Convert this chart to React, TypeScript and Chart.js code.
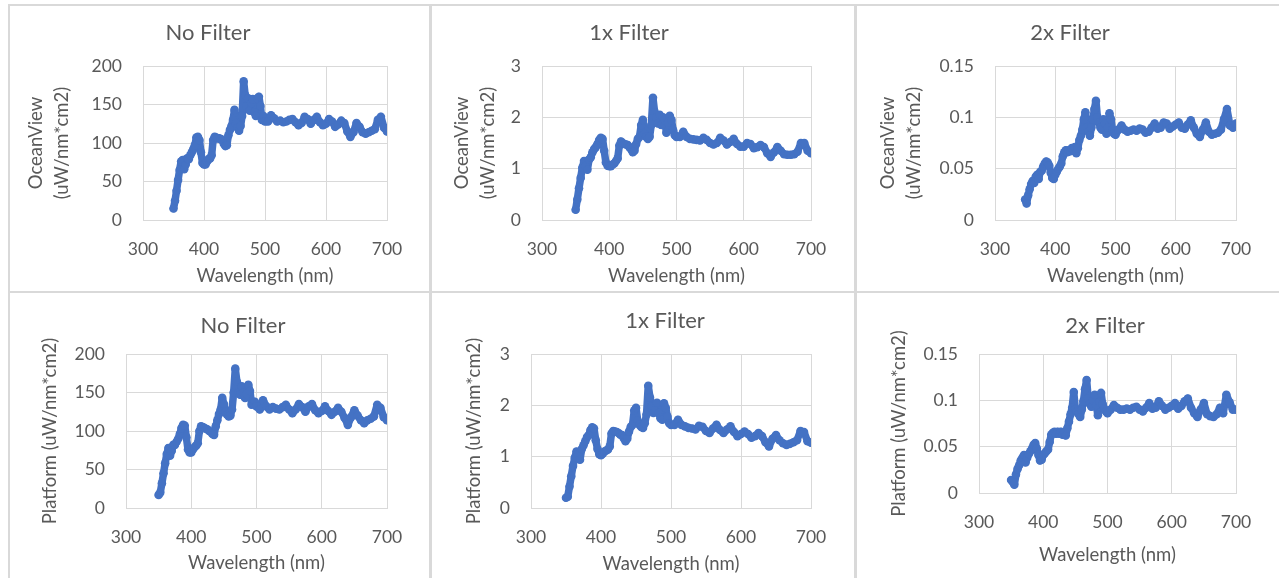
import React, { useEffect, useRef } from 'react';
import { Chart, registerables } from 'chart.js';

Chart.register(...registerables);

// Wavelength samples (nm)
const wavelengths = [
  350, 352.5, 355, 357.5, 360, 362.5, 365, 367.5, 370, 372.5,
  375, 377.5, 380, 382.5, 385, 387.5, 390, 392.5, 395, 397.5,
  400, 402.5, 405, 407.5, 410, 412.5, 415, 417.5, 420, 422.5,
  425, 427.5, 430, 432.5, 435, 437.5, 440, 442.5, 445, 447.5,
  450, 452.5, 455, 457.5, 460, 462.5, 465, 467.5, 470, 472.5,
  475, 477.5, 480, 482.5, 485, 487.5, 490, 492.5, 495, 497.5,
  500, 505, 510, 515, 520, 525, 530, 535, 540, 545,
  550, 555, 560, 565, 570, 575, 580, 585, 590, 595,
  600, 605, 610, 615, 620, 625, 630, 635, 640, 645,
  650, 655, 660, 665, 670, 675, 680, 685, 690, 695,
  700,
];

// OceanView, no filter
const oceanViewNoFilter = [
  15, 25, 38, 52, 65, 76, 78, 66, 72, 80,
  79, 84, 88, 92, 97, 107, 108, 104, 88, 74,
  72, 72, 76, 79, 80, 84, 104, 108, 107, 106,
  106, 105, 104, 99, 96, 97, 110, 117, 122, 130,
  143, 125, 120, 116, 122, 135, 180, 162, 148, 158,
  142, 152, 157, 140, 135, 158, 160, 148, 130, 135,
  128, 128, 136, 132, 128, 129, 127, 128, 130, 131,
  127, 123, 126, 134, 131, 125, 130, 134, 127, 123,
  125, 131, 128, 121, 124, 129, 126, 115, 108, 114,
  126, 121, 114, 112, 114, 116, 118, 130, 134, 120,
  115,
];

// OceanView, 1x filter
const oceanView1x = [
  0.20, 0.40, 0.62, 0.82, 1.02, 1.15, 1.05, 0.98, 1.18, 1.22,
  1.32, 1.38, 1.42, 1.48, 1.56, 1.60, 1.58, 1.35, 1.12, 1.06,
  1.05, 1.05, 1.08, 1.10, 1.15, 1.20, 1.45, 1.53, 1.50, 1.48,
  1.47, 1.46, 1.42, 1.38, 1.32, 1.35, 1.48, 1.58, 1.62, 1.85,
  1.95, 1.68, 1.62, 1.58, 1.62, 1.85, 2.38, 2.10, 2.00, 1.88,
  2.05, 1.85, 2.00, 1.95, 1.70, 1.90, 2.03, 1.95, 1.75, 1.65,
  1.62, 1.62, 1.72, 1.62, 1.58, 1.57, 1.56, 1.55, 1.60, 1.56,
  1.50, 1.47, 1.50, 1.60, 1.55, 1.47, 1.52, 1.58, 1.48, 1.43,
  1.43, 1.50, 1.48, 1.40, 1.42, 1.46, 1.42, 1.30, 1.23, 1.32,
  1.42, 1.35, 1.28, 1.27, 1.27, 1.28, 1.33, 1.50, 1.50, 1.35,
  1.30,
];

// OceanView, 2x filter
const oceanView2x = [
  0.020, 0.016, 0.024, 0.030, 0.035, 0.038, 0.036, 0.042, 0.044, 0.040,
  0.047, 0.048, 0.052, 0.055, 0.057, 0.056, 0.053, 0.046, 0.041, 0.040,
  0.044, 0.047, 0.050, 0.052, 0.055, 0.062, 0.066, 0.068, 0.066, 0.068,
  0.067, 0.070, 0.069, 0.071, 0.065, 0.070, 0.078, 0.082, 0.088, 0.098,
  0.105, 0.090, 0.086, 0.082, 0.090, 0.098, 0.108, 0.116, 0.100, 0.095,
  0.090, 0.088, 0.098, 0.094, 0.084, 0.090, 0.104, 0.098, 0.088, 0.084,
  0.083, 0.088, 0.092, 0.088, 0.086, 0.087, 0.088, 0.087, 0.089, 0.088,
  0.085, 0.086, 0.090, 0.094, 0.089, 0.090, 0.095, 0.094, 0.089, 0.091,
  0.093, 0.095, 0.090, 0.089, 0.093, 0.097, 0.090, 0.084, 0.081, 0.088,
  0.095, 0.086, 0.083, 0.084, 0.085, 0.088, 0.098, 0.108, 0.092, 0.090,
  0.094,
];

// Platform, no filter
const platformNoFilter = [
  17, 20, 32, 45, 58, 70, 78, 68, 74, 82,
  82, 86, 90, 96, 104, 108, 107, 92, 76, 72,
  72, 76, 79, 81, 84, 100, 106, 105, 104, 103,
  102, 100, 99, 96, 95, 106, 114, 122, 128, 143,
  135, 125, 121, 119, 120, 128, 150, 181, 164, 150,
  147, 158, 150, 143, 148, 160, 152, 134, 136, 138,
  132, 128, 140, 132, 128, 131, 129, 128, 131, 134,
  128, 123, 128, 135, 131, 125, 132, 135, 127, 123,
  126, 132, 126, 121, 125, 130, 125, 117, 108, 118,
  127, 120, 114, 110, 114, 116, 119, 134, 130, 118,
  114,
];

// Platform, 1x filter
const platform1x = [
  0.20, 0.22, 0.42, 0.62, 0.82, 0.98, 1.10, 1.05, 0.94, 1.15,
  1.22, 1.30, 1.38, 1.42, 1.52, 1.57, 1.55, 1.32, 1.15, 1.05,
  1.03, 1.06, 1.10, 1.12, 1.14, 1.20, 1.45, 1.50, 1.49, 1.48,
  1.46, 1.43, 1.42, 1.36, 1.30, 1.35, 1.49, 1.58, 1.62, 1.90,
  1.95, 1.70, 1.62, 1.58, 1.56, 1.65, 1.82, 2.38, 2.15, 1.98,
  1.85, 1.90, 2.05, 1.85, 1.75, 1.72, 2.04, 1.95, 1.78, 1.65,
  1.62, 1.62, 1.72, 1.62, 1.59, 1.56, 1.55, 1.53, 1.60, 1.58,
  1.50, 1.46, 1.55, 1.62, 1.52, 1.46, 1.53, 1.59, 1.48, 1.40,
  1.44, 1.49, 1.44, 1.37, 1.40, 1.46, 1.40, 1.28, 1.20, 1.35,
  1.42, 1.32, 1.26, 1.23, 1.25, 1.28, 1.32, 1.50, 1.48, 1.30,
  1.27,
];

// Platform, 2x filter
const platform2x = [
  0.014, 0.012, 0.009, 0.020, 0.026, 0.030, 0.035, 0.038, 0.041, 0.033,
  0.038, 0.042, 0.045, 0.048, 0.052, 0.054, 0.048, 0.041, 0.035, 0.036,
  0.041, 0.043, 0.045, 0.047, 0.055, 0.063, 0.065, 0.066, 0.064, 0.066,
  0.064, 0.066, 0.063, 0.065, 0.062, 0.070, 0.077, 0.085, 0.092, 0.109,
  0.090, 0.088, 0.085, 0.082, 0.090, 0.099, 0.112, 0.122, 0.102, 0.096,
  0.093, 0.100, 0.106, 0.095, 0.084, 0.098, 0.108, 0.096, 0.091, 0.088,
  0.086, 0.090, 0.095, 0.092, 0.090, 0.090, 0.091, 0.090, 0.092, 0.093,
  0.090, 0.088, 0.092, 0.097, 0.091, 0.092, 0.099, 0.094, 0.090, 0.092,
  0.094, 0.097, 0.091, 0.094, 0.099, 0.102, 0.092, 0.086, 0.082, 0.090,
  0.097, 0.085, 0.083, 0.082, 0.085, 0.092, 0.086, 0.106, 0.098, 0.090,
  0.090,
];

// Axis ranges / tick steps
const xRange = [300, 700];
const xStep = 100;
const yRangeNoFilter = [0, 200];
const yStepNoFilter = 50;
const yRange1x = [0, 3];
const yStep1x = 1;
const yRange2x = [0, 0.15];
const yStep2x = 0.05;

const titles = ['No Filter', '1x Filter', '2x Filter'];
const oceanViewLabel = ['OceanView', '(uW/nm*cm2)'];
const platformLabel = 'Platform (uW/nm*cm2)';
const xLabel = 'Wavelength (nm)';

const FONT = 'Lato, "Open Sans", sans-serif';
const TEXT = '#595959';
const GRID = '#d9d9d9';
const BLUE = '#4472C4';

type Panel = {
  left: number; top: number; w: number; h: number;
  title: string; tx: number; ty: number;
  yTitle: string | string[]; yTitlePad: number;
  values: number[]; yRange: number[]; yStep: number;
  pl: number; pr: number; pt: number; pb: number;
  xTitlePad: number;
};

const panels: Panel[] = [
  { left: 10, top: 6, w: 419, h: 285, title: titles[0], tx: 198, ty: 27, yTitle: oceanViewLabel, yTitlePad: 13,
    values: oceanViewNoFilter, yRange: yRangeNoFilter, yStep: yStepNoFilter, pl: 133, pr: 377, pt: 60, pb: 214, xTitlePad: 4 },
  { left: 432, top: 6, w: 422, h: 285, title: titles[1], tx: 197, ty: 27, yTitle: oceanViewLabel, yTitlePad: 17,
    values: oceanView1x, yRange: yRange1x, yStep: yStep1x, pl: 110, pr: 379, pt: 60, pb: 214, xTitlePad: 4 },
  { left: 857, top: 6, w: 422, h: 285, title: titles[2], tx: 213, ty: 27, yTitle: oceanViewLabel, yTitlePad: 18,
    values: oceanView2x, yRange: yRange2x, yStep: yStep2x, pl: 138, pr: 379, pt: 60, pb: 214, xTitlePad: 4 },
  { left: 10, top: 293, w: 419, h: 285, title: titles[0], tx: 233, ty: 33, yTitle: platformLabel, yTitlePad: 27,
    values: platformNoFilter, yRange: yRangeNoFilter, yStep: yStepNoFilter, pl: 116, pr: 377, pt: 61, pb: 215, xTitlePad: 4 },
  { left: 432, top: 293, w: 422, h: 285, title: titles[1], tx: 233, ty: 28, yTitle: platformLabel, yTitlePad: 29,
    values: platform1x, yRange: yRange1x, yStep: yStep1x, pl: 99, pr: 379, pt: 61, pb: 215, xTitlePad: 3 },
  { left: 857, top: 293, w: 422, h: 285, title: titles[2], tx: 248, ty: 33, yTitle: platformLabel, yTitlePad: 29,
    values: platform2x, yRange: yRange2x, yStep: yStep2x, pl: 122, pr: 379, pt: 61, pb: 200, xTitlePad: 12 },
];

const panelTitle = {
  id: 'panelTitle',
  afterDraw(chart: any, _args: any, opts: any) {
    const { ctx } = chart;
    ctx.save();
    ctx.font = `22px ${FONT}`;
    ctx.fillStyle = TEXT;
    ctx.textAlign = 'center';
    ctx.textBaseline = 'middle';
    ctx.fillText(opts.text, opts.x, opts.y);
    ctx.restore();
  },
};

function fmt(v: number) {
  return String(parseFloat(Number(v).toFixed(4)));
}

function ChartPanel({ p }: { p: Panel }) {
  const ref = useRef<HTMLCanvasElement | null>(null);
  useEffect(() => {
    if (!ref.current) return;
    const data = wavelengths.map((x, i) => ({ x, y: p.values[i] }));
    const chart = new Chart(ref.current, {
      type: 'scatter',
      data: {
        datasets: [{
          data,
          showLine: true,
          borderColor: BLUE,
          backgroundColor: BLUE,
          borderWidth: 7.5,
          borderJoinStyle: 'round',
          borderCapStyle: 'round',
          pointRadius: 4.3,
          pointBorderWidth: 0,
          pointHoverRadius: 4.3,
          tension: 0,
        } as any],
      },
      options: {
        responsive: false,
        animation: false,
        events: [],
        layout: { padding: { left: 0, top: p.pt, right: p.w - p.pr, bottom: 0 } },
        plugins: {
          legend: { display: false },
          tooltip: { enabled: false },
          title: { display: false },
          panelTitle: { text: p.title, x: p.tx, y: p.ty },
        } as any,
        scales: {
          x: {
            type: 'linear',
            min: xRange[0], max: xRange[1],
            ticks: { stepSize: xStep, color: TEXT, font: { family: FONT, size: 17.5 }, padding: 19, callback: (v: any) => fmt(v) },
            grid: { color: GRID, lineWidth: 1, drawTicks: false },
            border: { color: GRID, width: 1 },
            title: { display: true, text: xLabel, color: TEXT, font: { family: FONT, size: 18.5, lineHeight: 1.2 }, padding: { top: 0, bottom: p.xTitlePad } },
            afterFit: (s: any) => { s.height = p.h - p.pb; },
          },
          y: {
            type: 'linear',
            min: p.yRange[0], max: p.yRange[1],
            ticks: { stepSize: p.yStep, color: TEXT, font: { family: FONT, size: 17.5 }, padding: 21, callback: (v: any) => fmt(v) },
            grid: { color: GRID, lineWidth: 1, drawTicks: false },
            border: { color: GRID, width: 1 },
            title: { display: true, text: p.yTitle, color: TEXT, font: { family: FONT, size: 18.5, lineHeight: 1.42 }, padding: { top: p.yTitlePad, bottom: 0 } },
            afterFit: (s: any) => { s.width = p.pl; },
          },
        },
      } as any,
      plugins: [panelTitle as any],
    });
    return () => chart.destroy();
  }, [p]);
  return (
    <canvas
      ref={ref}
      width={p.w}
      height={p.h}
      style={{ position: 'absolute', left: p.left, top: p.top, width: p.w, height: p.h }}
    />
  );
}

const line = (l: number, t: number, w: number, h: number) => (
  <div style={{ position: 'absolute', left: l, top: t, width: w, height: h, background: GRID }} />
);

export default function App() {
  return (
    <div style={{ position: 'fixed', left: 0, top: 0, width: 1279, height: 578, overflow: 'hidden', background: '#fff' }}>
      {line(8, 4, 1271, 2)}
      {line(8, 4, 2, 574)}
      {line(429, 4, 3, 574)}
      {line(854, 4, 3, 574)}
      {line(8, 291, 1271, 2)}
      {panels.map((p, i) => <ChartPanel key={i} p={p} />)}
    </div>
  );
}
